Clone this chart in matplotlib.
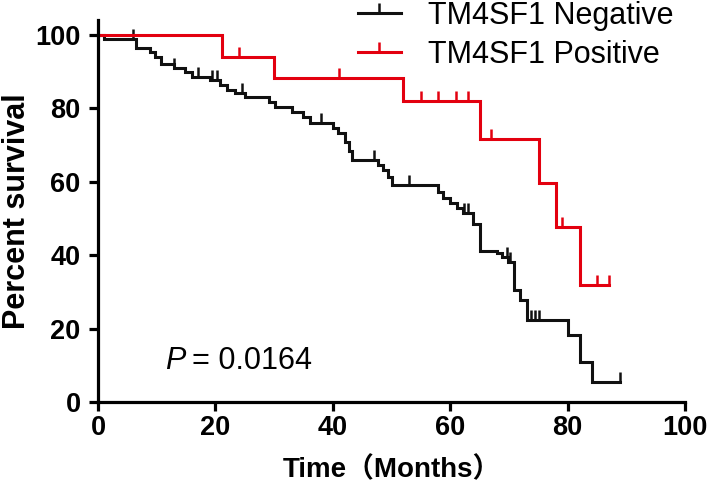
import numpy as np
import matplotlib
matplotlib.use("Agg")
import matplotlib.pyplot as plt
from matplotlib.lines import Line2D

# ---- data ----
neg_times = [0, 1, 6.5, 8.9, 9.7, 10.8, 13, 14.8, 16, 19.1, 20.8, 21.9, 23.3, 25.0,
             29.2, 30.2, 33, 35, 36.1, 40, 40.9, 42.1, 42.8, 43.2, 47.7, 48.6, 49.4,
             50, 58, 58.8, 60, 61.1, 62.2, 63.9, 65.1, 67.9, 68.8, 69.9, 70.8, 71.9,
             73, 80.1, 82.1, 84.1, 89]
neg_surv = [100, 98.8, 96.5, 95.4, 94.1, 92.0, 90.9, 90.0, 88.6, 87.7, 86.4, 85.0, 84.1, 83.2,
            81.8, 80.5, 79.1, 77.7, 76.0, 74.7, 73.3, 70.9, 68.5, 65.9, 64.6, 63.2, 61.4,
            59.1, 57.3, 55.6, 54.2, 52.9, 51.5, 48.5, 41.2, 40.6, 39.6, 38.2, 30.5, 27.8,
            22.3, 18.3, 11.0, 5.5, 5.5]
neg_censor = [6, 13, 17, 19.5, 20.2, 24.5, 38, 47, 53, 62.4, 63.1, 69.6, 70.2,
              73.8, 74.5, 75.2, 89]

pos_times = [0, 21.2, 30, 52, 65.1, 75.1, 78.1, 82.1, 87]
pos_surv = [100, 94.1, 88.2, 81.9, 71.6, 59.7, 47.7, 31.8, 31.8]
pos_censor = [24, 41, 55, 58, 61, 63, 67, 79, 85, 87]

labels = ["TM4SF1 Negative", "TM4SF1 Positive"]
colors = ["#111111", "#e3000f"]
xticks = [0, 20, 40, 60, 80, 100]
yticks = [0, 20, 40, 60, 80, 100]
p_text = "0.0164"

BOLD = ["Liberation Sans", "Noto Sans CJK SC"]
REG = ["Liberation Sans", "DejaVu Sans"]

fig = plt.figure(figsize=(7.09, 4.90), dpi=100)
ax = fig.add_axes([98 / 709, 88 / 490, 587 / 709, 104 * 3.67 / 490])


def surv_at(times, surv, t):
    i = np.searchsorted(times, t, side="right") - 1
    return np.asarray(surv)[i]


for times, surv, cens, col in [(neg_times, neg_surv, neg_censor, colors[0]),
                               (pos_times, pos_surv, pos_censor, colors[1])]:
    ax.step(times, surv, where="post", color=col, lw=2.2, clip_on=False,
            solid_joinstyle="miter")
    cy = [surv_at(times, surv, t) for t in cens]
    ax.plot(cens, cy, ls="none", marker=2, ms=7, mew=1.8, color=col, clip_on=False)

ax.set_xlim(0, 100)
ax.set_ylim(0, 104)
ax.spines["top"].set_visible(False)
ax.spines["right"].set_visible(False)
for s in ("left", "bottom"):
    ax.spines[s].set_linewidth(2.3)
ax.spines["bottom"].set_bounds(0, 100)
ax.set_xticks(xticks)
ax.set_yticks(yticks)
ax.tick_params(direction="out", length=6.5, width=2.3)
ax.tick_params(axis="x", pad=3)
ax.tick_params(axis="y", pad=6)
for lab in ax.get_xticklabels() + ax.get_yticklabels():
    lab.set_fontfamily(BOLD)
    lab.set_fontweight("bold")
    lab.set_fontsize(19.5)

ax.set_xlabel("Time（Months）", family=BOLD, fontweight="bold", fontsize=20, labelpad=11)
ax.set_ylabel("Percent survival", family=BOLD, fontweight="bold", fontsize=22, labelpad=2)

pt = ax.text(11.4, 9.0, "P", family=REG, style="italic", fontsize=22, va="baseline")
ax.annotate("= " + p_text, xy=(1, 0), xycoords=pt, xytext=(5, 0), textcoords="offset points",
            family=REG, fontsize=22, va="bottom", ha="left")

handles = [Line2D([], [], color=c, lw=2.2, marker=2, ms=7, mew=1.8) for c in colors]
leg = ax.legend(handles, labels, loc="upper left", bbox_to_anchor=(358 / 709, 1 - 1 / 490),
                bbox_transform=fig.transFigure, frameon=False, numpoints=1,
                prop={"family": REG, "size": 22}, handlelength=1.4, handletextpad=0.9,
                labelspacing=0.3, borderpad=0, borderaxespad=0)

fig.savefig("out.png", dpi=100)
